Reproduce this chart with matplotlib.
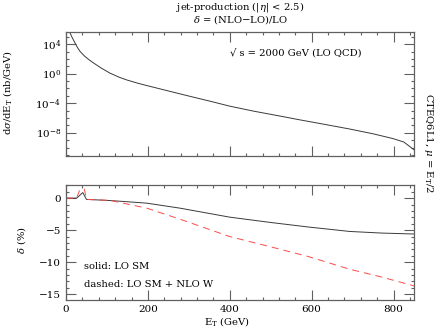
import matplotlib
matplotlib.use("Agg")
import matplotlib.pyplot as plt
import numpy as np
from matplotlib.ticker import FixedLocator, MultipleLocator, NullFormatter

plt.rcParams['font.family'] = ['DejaVu Serif']
plt.rcParams['mathtext.fontset'] = 'dejavuserif'
plt.rcParams['lines.scale_dashes'] = False

# ---- data ----
et_top = [10, 15, 22, 28, 34, 45, 55, 67, 85, 107, 130, 148, 175, 197, 245, 298, 350,
          400, 460, 522, 571, 620, 693, 750, 798, 825, 850]
dsigma = [3.2e5, 8.1e4, 1.45e4, 3.5e3, 1.1e3, 2.5e2, 87, 29, 6.3, 1.23, 0.33, 0.145,
          0.052, 0.025, 5.4e-3, 1.0e-3, 2.0e-4, 4.0e-5, 8.1e-6, 1.86e-6, 5.6e-7, 1.8e-7,
          3.2e-8, 7.2e-9, 1.66e-9, 5.6e-10, 5.0e-11]

et_bot = [0, 26, 41, 50, 107, 197, 278, 400, 500, 591, 693, 770, 850]
delta_solid = [0.0, 0.0, 0.87, -0.2, -0.37, -0.78, -1.56, -2.97, -3.8, -4.5, -5.2, -5.45, -5.6]
delta_dashed = [0.0, 0.0, 2.6, -0.2, -0.35, -1.56, -3.28, -6.0, -7.6, -9.1, -11.1, -12.3, -13.7]

xticks = [0, 200, 400, 600, 800]
ytop_ticks = [1e4, 1e0, 1e-4, 1e-8]
ytop_labels = [r'$10^{4}$', r'$10^{0}$', r'$10^{-4}$', r'$10^{-8}$']
ybot_ticks = [0, -5, -10, -15]

fig = plt.figure(figsize=(4.36, 3.30), dpi=100)
W, H = 436, 330
def ax_rect(l, t, r, b):
    return [l / W, 1 - b / H, (r - l) / W, (b - t) / H]

ax1 = fig.add_axes(ax_rect(66, 32, 414, 156))
ax2 = fig.add_axes(ax_rect(66, 185, 414, 300))

scol = '#3a3a3a'
rcol = '#ff4a4a'
spcol = '#606060'
fs = 7.2

ax1.plot(et_top, dsigma, color=scol, lw=0.7)
ax1.set_yscale('log')
ax1.set_ylim(10**-11.15, 10**5.65)
ax1.set_xlim(0, 850)
ax1.yaxis.set_major_locator(FixedLocator(ytop_ticks))
ax1.set_yticklabels(ytop_labels)
ax1.yaxis.set_minor_locator(FixedLocator([10.0**k for k in range(-11, 6)]))
ax1.yaxis.set_minor_formatter(NullFormatter())
ax1.set_xticks(xticks)
ax1.set_xticklabels([])
ax1.xaxis.set_minor_locator(MultipleLocator(40))
ax1.text(400, 10**2.85, '√ s = 2000 GeV (LO QCD)', fontsize=fs, va='center', ha='left')

ax2.plot(et_bot, delta_solid, color=scol, lw=0.7)
ax2.plot(et_bot, delta_dashed, color=rcol, lw=0.7, dashes=(5, 3.6))
ax2.set_xlim(0, 850)
ax2.set_ylim(-15.9, 2.05)
ax2.set_yticks(ybot_ticks)
ax2.yaxis.set_minor_locator(MultipleLocator(1))
ax2.set_xticks(xticks)
ax2.xaxis.set_minor_locator(MultipleLocator(40))
ax2.text(44, -10.7, 'solid: LO SM', fontsize=fs, va='center', ha='left')
ax2.text(44, -13.5, 'dashed: LO SM + NLO W', fontsize=fs, va='center', ha='left')

for ax in (ax1, ax2):
    ax.tick_params(which='both', direction='in', top=True, right=True, colors=spcol,
                   labelcolor='black', labelsize=fs + 0.3, width=0.8)
    ax.tick_params(which='major', length=7)
    ax.tick_params(which='minor', length=2.5)
    for s in ax.spines.values():
        s.set_color(spcol)
        s.set_linewidth(0.9)

def ftxt(x, y, s, **kw):
    fig.text(x / W, 1 - y / H, s, ha='center', va='center', fontsize=fs, **kw)

ftxt(240, 6.5, r'jet-production (|$\eta$| < 2.5)')
ftxt(240, 19.5, r'$\delta$ = (NLO$-$LO)/LO')
ftxt(8, 93, r'd$\sigma$/dE$_{\mathrm{T}}$ (nb/GeV)', rotation=90)
ftxt(22, 240, r'$\delta$ (%)', rotation=90)
ftxt(227, 322, r'E$_{\mathrm{T}}$ (GeV)')
ftxt(428, 143, r'CTEQ6L1, $\mu$ = E$_{\mathrm{T}}$/2', rotation=-90)

fig.savefig('out.png', dpi=100)
